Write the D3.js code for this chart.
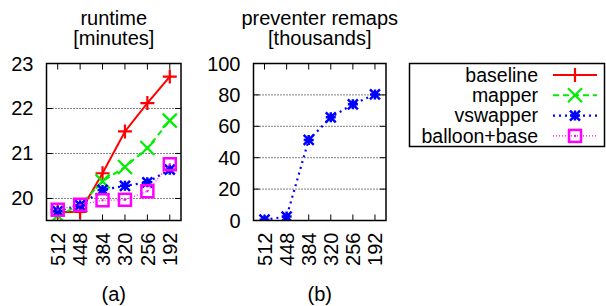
<!DOCTYPE html>
<html>
<head>
<meta charset="utf-8">
<script src="https://cdn.jsdelivr.net/npm/d3@7"></script>
<style>
body { margin: 0; background: #fff; }
text { font-family: "Liberation Sans", Arial, sans-serif; fill: #000; }
</style>
</head>
<body>
<svg id="chart" width="606" height="306"></svg>
<script>
// x categories (memory sizes)
var sizes = ["512", "448", "384", "320", "256", "192"];

// runtime [minutes]
var baseline = [19.7, 19.7, 20.56, 21.49, 22.12, 22.71];
var mapper = [19.62, 19.85, 20.38, 20.7, 21.12, 21.73];
var vswapper = [19.72, 19.85, 20.19, 20.28, 20.36, 20.64];
var balloon = [19.75, 19.86, 19.96, 19.97, 20.16, 20.76];

// preventer remaps [thousands]
var remaps = [0.5, 2.5, 51.3, 65.7, 74, 80.3];

var ticksA = [20, 21, 22, 23];
var ticksB = [0, 20, 40, 60, 80, 100];

var series = [
  {name: "baseline", values: baseline, color: "#ff0000", dash: null, width: 2, marker: "plus"},
  {name: "mapper", values: mapper, color: "#00ee00", dash: "6,4", width: 2, marker: "cross"},
  {name: "vswapper", values: vswapper, color: "#0000ff", dash: "2,4", width: 2.2, marker: "star"},
  {name: "balloon+base", values: balloon, color: "#ff00ff", dash: "1,2", width: 1.2, marker: "square"}
];

var fs = "20px";
var svg = d3.select("#chart");

function marker(g, type, cx, cy, color) {
  var s = 7;
  if (type == "plus") {
    g.append("path").attr("d", "M" + (cx - s) + "," + cy + "H" + (cx + s) + "M" + cx + "," + (cy - s) + "V" + (cy + s))
      .attr("stroke", color).attr("stroke-width", 2.2).attr("fill", "none");
  } else if (type == "cross") {
    g.append("path").attr("d", "M" + (cx - s) + "," + (cy - s) + "L" + (cx + s) + "," + (cy + s) + "M" + (cx - s) + "," + (cy + s) + "L" + (cx + s) + "," + (cy - s))
      .attr("stroke", color).attr("stroke-width", 2.2).attr("fill", "none");
  } else if (type == "star") {
    var t = 5;
    g.append("path").attr("d", "M" + (cx - t) + "," + cy + "H" + (cx + t) + "M" + cx + "," + (cy - t) + "V" + (cy + t)
      + "M" + (cx - t) + "," + (cy - t) + "L" + (cx + t) + "," + (cy + t) + "M" + (cx - t) + "," + (cy + t) + "L" + (cx + t) + "," + (cy - t))
      .attr("stroke", color).attr("stroke-width", 2.5).attr("fill", "none");
  } else if (type == "square") {
    var q = 6;
    g.append("rect").attr("x", cx - q).attr("y", cy - q).attr("width", 2 * q).attr("height", 2 * q)
      .attr("stroke", color).attr("stroke-width", 2.5).attr("fill", "none");
    g.append("rect").attr("x", cx - 1).attr("y", cy - 1).attr("width", 2).attr("height", 2).attr("fill", color);
  }
}

function panel(left, right, top, bottom, ydom, yticks, title1, title2, label, data) {
  var g = svg.append("g");
  var x = d3.scaleLinear().domain([-0.5, sizes.length - 0.5]).range([left, right]);
  var y = d3.scaleLinear().domain(ydom).range([bottom, top]);

  // grid
  g.selectAll(".grid").data(yticks.filter(function(d) { return y(d) > top + 1 && y(d) < bottom - 1; }))
    .enter().append("line")
    .attr("x1", left).attr("x2", right)
    .attr("y1", function(d) { return y(d); }).attr("y2", function(d) { return y(d); })
    .attr("stroke", "#000").attr("stroke-width", 1).attr("stroke-dasharray", "1,2");

  // ticks inside
  var tl = 6;
  yticks.forEach(function(d) {
    g.append("line").attr("x1", left).attr("x2", left + tl).attr("y1", y(d)).attr("y2", y(d)).attr("stroke", "#000");
    g.append("line").attr("x1", right - tl).attr("x2", right).attr("y1", y(d)).attr("y2", y(d)).attr("stroke", "#000");
  });
  sizes.forEach(function(s, i) {
    g.append("line").attr("x1", x(i)).attr("x2", x(i)).attr("y1", bottom).attr("y2", bottom - tl).attr("stroke", "#000");
    g.append("line").attr("x1", x(i)).attr("x2", x(i)).attr("y1", top).attr("y2", top + tl).attr("stroke", "#000");
  });

  // y labels
  g.selectAll(".yl").data(yticks).enter().append("text")
    .attr("x", left - 13).attr("y", function(d) { return y(d); })
    .attr("dy", "0.35em").attr("text-anchor", "end").attr("font-size", fs)
    .text(function(d) { return d; });

  // x labels, rotated
  g.selectAll(".xl").data(sizes).enter().append("text")
    .attr("transform", function(d, i) { return "translate(" + x(i) + "," + (bottom + 12) + ") rotate(-90)"; })
    .attr("dy", "0.36em").attr("text-anchor", "end").attr("font-size", fs)
    .text(function(d) { return d; });

  // series
  var clip = "clip" + left;
  svg.append("clipPath").attr("id", clip).append("rect")
    .attr("x", left).attr("y", top).attr("width", right - left).attr("height", bottom - top);
  var sg = g.append("g").attr("clip-path", "url(#" + clip + ")");
  data.forEach(function(s) {
    var line = d3.line().x(function(d, i) { return x(i); }).y(function(d) { return y(d); });
    sg.append("path").attr("d", line(s.values))
      .attr("fill", "none").attr("stroke", s.color).attr("stroke-width", s.width)
      .attr("stroke-dasharray", s.dash);
    s.values.forEach(function(v, i) { marker(sg, s.marker, x(i), y(v), s.color); });
  });

  // frame
  g.append("rect").attr("x", left).attr("y", top).attr("width", right - left).attr("height", bottom - top)
    .attr("fill", "none").attr("stroke", "#000").attr("stroke-width", 1.5);

  var cx = (left + right) / 2;
  g.append("text").attr("x", cx).attr("y", 25).attr("text-anchor", "middle").attr("font-size", fs).text(title1);
  g.append("text").attr("x", cx).attr("y", 45).attr("text-anchor", "middle").attr("font-size", fs).text(title2);
  g.append("text").attr("x", cx).attr("y", 301).attr("text-anchor", "middle").attr("font-size", fs).text(label);
}

panel(46.5, 181, 63.5, 220.5, [19.51, 23], ticksA, "runtime", "[minutes]", "(a)", series);
panel(253.5, 386, 63.5, 220.5, [0, 100], ticksB, "preventer remaps", "[thousands]", "(b)",
  [{name: "vswapper", values: remaps, color: "#0000ff", dash: "2,4", width: 2.2, marker: "star"}]);

// legend
var lg = svg.append("g");
lg.append("rect").attr("x", 409.5).attr("y", 63.5).attr("width", 195).attr("height", 83)
  .attr("fill", "none").attr("stroke", "#000").attr("stroke-width", 1.5);
series.forEach(function(s, i) {
  var yy = 75 + i * 20.3;
  lg.append("text").attr("x", 538).attr("y", yy).attr("dy", "0.35em").attr("text-anchor", "end")
    .attr("font-size", "19.5px").text(s.name);
  lg.append("line").attr("x1", 553).attr("x2", 597).attr("y1", yy).attr("y2", yy)
    .attr("stroke", s.color).attr("stroke-width", s.width).attr("stroke-dasharray", s.dash);
  marker(lg, s.marker, 575, yy, s.color);
});
</script>
</body>
</html>
